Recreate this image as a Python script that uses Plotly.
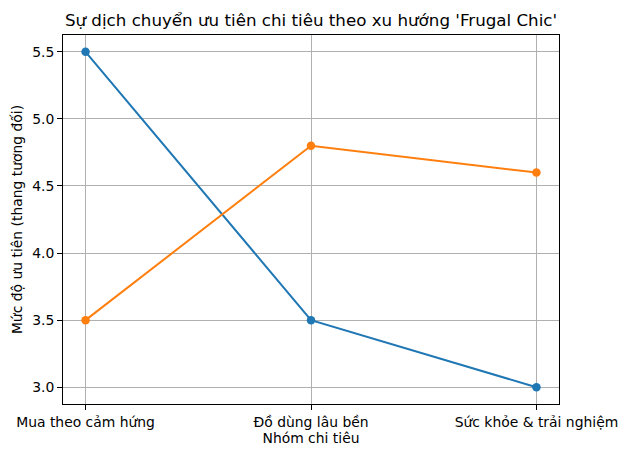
import plotly.graph_objects as go

categories = ["Mua theo cảm hứng", "Đồ dùng lâu bền", "Sức khỏe & trải nghiệm"]
before_values = [5.5, 3.5, 3.0]
after_values = [3.5, 4.8, 4.6]
y_ticks = [3.0, 3.5, 4.0, 4.5, 5.0, 5.5]

font = dict(family="DejaVu Sans", size=13.9, color="black")

fig = go.Figure()
x_idx = list(range(len(categories)))
fig.add_trace(go.Scatter(x=x_idx, y=before_values, mode="lines+markers", name="Trước",
                         line=dict(color="#1f77b4", width=2), marker=dict(size=8.5)))
fig.add_trace(go.Scatter(x=x_idx, y=after_values, mode="lines+markers", name="Sau",
                         line=dict(color="#ff7f0e", width=2), marker=dict(size=8.5)))

axis_style = dict(showline=True, linecolor="black", linewidth=1, mirror=True,
                  showgrid=True, gridcolor="#b0b0b0", gridwidth=0.8,
                  ticks="outside", ticklen=5, tickcolor="black", zeroline=False,
                  tickfont=font, automargin=False)

fig.update_xaxes(tickvals=x_idx, ticktext=categories, range=[-0.1, 2.1],
                 title=dict(text="Nhóm chi tiêu", font=font, standoff=4), **axis_style)
fig.update_yaxes(tickvals=y_ticks, tickformat=".1f", range=[2.875, 5.625],
                 title=dict(text="Mức độ ưu tiên (thang tương đối)", font=font, standoff=6),
                 **axis_style)

# the page body has an 8px margin, so the figure is a bit smaller
fig.update_layout(
    width=619, height=450,
    margin=dict(l=55, r=68, t=27, b=54),
    plot_bgcolor="white", paper_bgcolor="white",
    showlegend=False,
    font=font,
    title=dict(text="Sự dịch chuyển ưu tiên chi tiêu theo xu hướng 'Frugal Chic'",
               font=dict(family="DejaVu Sans", size=16.7, color="black"),
               x=0.5, xref="paper", xanchor="center",
               y=1 - 12 / 450, yref="container", yanchor="middle"),
)

fig.write_html("out.html")
